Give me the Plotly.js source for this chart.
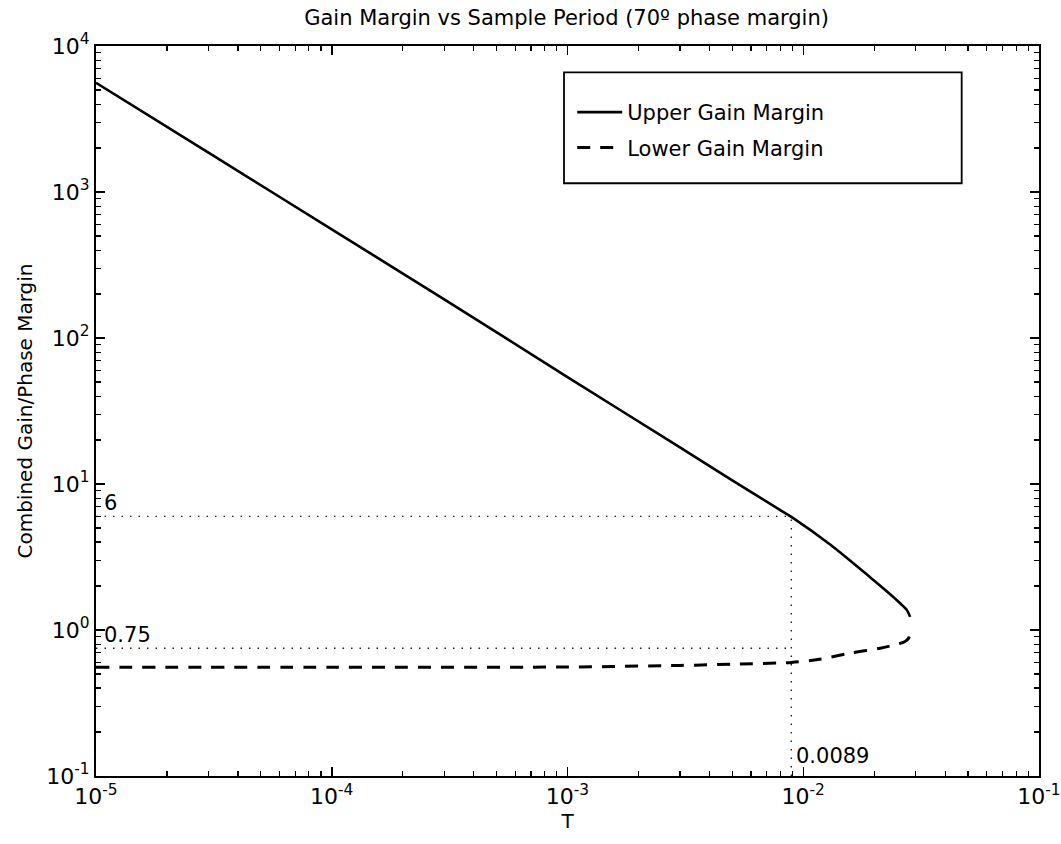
<!DOCTYPE html>
<html>
<head>
<meta charset="utf-8">
<script src="https://cdn.plot.ly/plotly-3.0.1.min.js"></script>
<style>html,body{margin:0;padding:0;background:#fff;}#chart{width:1061px;height:844px;}</style>
</head>
<body>
<div id="chart"></div>
<script>
// Sample period T (s) and gain margins
const upperT    = [1e-5, 3e-5, 1e-4, 3e-4, 1e-3, 3e-3, 5e-3, 0.0079, 0.0089, 0.013, 0.0192, 0.0235, 0.0257, 0.0275, 0.0284];
const upperGain = [5600, 1860, 555, 184, 54, 17.8, 10.6, 6.7, 5.95, 3.85, 2.3, 1.745, 1.53, 1.37, 1.23];
const lowerT    = [1e-5, 1e-4, 1e-3, 3e-3, 5e-3, 0.0089, 0.0117, 0.0158, 0.0212, 0.0250, 0.0269, 0.0280, 0.0284];
const lowerGain = [0.556, 0.556, 0.558, 0.572, 0.583, 0.60, 0.63, 0.695, 0.75, 0.80, 0.83, 0.88, 0.955];
// Marked design point
const markT = 0.0089;
const markUpper = 6;
const markLower = 0.75;
const markLabels = ["6", "0.75", "0.0089"];
// Axes
const xRange = [1e-5, 1e-1];
const yRange = [1e-1, 1e4];
const xTickExp = [-5, -4, -3, -2, -1];
const yTickExp = [-1, 0, 1, 2, 3, 4];
const minorMult = [2, 3, 4, 5, 6, 7, 8, 9];
const seriesNames = ["Upper Gain Margin", "Lower Gain Margin"];

const FONT = "DejaVu Sans, Arial, sans-serif";
const dotted = {color: "#222", width: 1.4, dash: "1.5px,7px"};

function minorVals(exps) {
  const out = [];
  exps.slice(0, -1).forEach(e => minorMult.forEach(m => out.push(m * Math.pow(10, e))));
  return out;
}

const traces = [
  {x: upperT, y: upperGain, mode: "lines", name: seriesNames[0], legendgroup: "a",
   line: {color: "#000", width: 2.6, shape: "spline", smoothing: 0.8}},
  {x: lowerT, y: lowerGain, mode: "lines", name: seriesNames[1], legendgroup: "b",
   line: {color: "#000", width: 3, dash: "13px,10px", shape: "spline", smoothing: 0.8}},
  {x: [xRange[0], markT], y: [markUpper, markUpper], mode: "lines", showlegend: false, line: dotted, hoverinfo: "skip"},
  {x: [xRange[0], markT], y: [markLower, markLower], mode: "lines", showlegend: false, line: dotted, hoverinfo: "skip"},
  {x: [markT, markT], y: [yRange[0], markUpper], mode: "lines", showlegend: false, line: dotted, hoverinfo: "skip"},
  // invisible trace carrying the mirrored (top/right) tick axes
  {x: xRange, y: yRange, xaxis: "x2", yaxis: "y2", mode: "lines", showlegend: false,
   line: {width: 0, color: "rgba(0,0,0,0)"}, hoverinfo: "skip"}
];

function tickBase(exps) {
  return {
    type: "log",
    showgrid: false, zeroline: false,
    ticks: "inside", ticklen: 9, tickwidth: 1.5, tickcolor: "#000",
    tickfont: {family: FONT, size: 22, color: "#000"},
    tickmode: "array",
    tickvals: exps.map(e => Math.pow(10, e)),
    ticktext: exps.map(e => "10<sup>" + e + "</sup>"),
    minor: {ticks: "inside", ticklen: 5, tickwidth: 1.2, tickcolor: "#000", showgrid: false,
            tickmode: "array", tickvals: minorVals(exps)}
  };
}

const layout = {
  width: 1061, height: 844,
  margin: {l: 96, r: 22, t: 46, b: 68},
  paper_bgcolor: "#fff", plot_bgcolor: "#fff",
  showlegend: true,
  font: {family: FONT, color: "#000"},
  title: {text: "Gain Margin vs Sample Period (70º phase margin)",
          font: {family: FONT, size: 21, color: "#000"},
          x: 0.534, xanchor: "center", y: 0.979, yanchor: "middle"},
  xaxis: Object.assign(tickBase(xTickExp), {
    range: [Math.log10(xRange[0]), Math.log10(xRange[1])],
    showline: true, linecolor: "#000", linewidth: 2, mirror: true,
    title: {text: "T", font: {family: FONT, size: 20, color: "#000"}, standoff: 0}
  }),
  yaxis: Object.assign(tickBase(yTickExp), {
    range: [Math.log10(yRange[0]), Math.log10(yRange[1])],
    showline: true, linecolor: "#000", linewidth: 2, mirror: true,
    title: {text: "Combined Gain/Phase Margin", font: {family: FONT, size: 20, color: "#000"}, standoff: 8}
  }),
  xaxis2: Object.assign(tickBase(xTickExp), {
    range: [Math.log10(xRange[0]), Math.log10(xRange[1])],
    overlaying: "x", side: "top", anchor: "y2", showline: false, showticklabels: false
  }),
  yaxis2: Object.assign(tickBase(yTickExp), {
    range: [Math.log10(yRange[0]), Math.log10(yRange[1])],
    overlaying: "y", side: "right", anchor: "x2", showline: false, showticklabels: false
  }),
  legend: {
    x: 0.505, y: 0.937, xanchor: "left", yanchor: "top",
    bgcolor: "rgba(0,0,0,0)", borderwidth: 0,
    font: {family: FONT, size: 21, color: "#000"},
    traceorder: "grouped", tracegroupgap: 5, itemwidth: 45
  },
  shapes: [
    {type: "rect", xref: "paper", yref: "paper", x0: 0.4963, x1: 0.918, y0: 0.812, y1: 0.964,
     line: {color: "#000", width: 1.8}, fillcolor: "rgba(0,0,0,0)", layer: "above"}
  ],
  annotations: [
    {x: Math.log10(xRange[0]), y: Math.log10(markUpper), xref: "x", yref: "y", text: markLabels[0],
     showarrow: false, xanchor: "left", yanchor: "bottom", xshift: 6, yshift: -1,
     font: {family: FONT, size: 21, color: "#000"}},
    {x: Math.log10(xRange[0]), y: Math.log10(markLower), xref: "x", yref: "y", text: markLabels[1],
     showarrow: false, xanchor: "left", yanchor: "bottom", xshift: 6, yshift: -1,
     font: {family: FONT, size: 21, color: "#000"}},
    {x: Math.log10(markT), y: Math.log10(yRange[0]), xref: "x", yref: "y", text: markLabels[2],
     showarrow: false, xanchor: "left", yanchor: "bottom", xshift: 3, yshift: 6,
     font: {family: FONT, size: 21, color: "#000"}}
  ]
};

Plotly.newPlot("chart", traces, layout, {staticPlot: true, displayModeBar: false});
</script>
</body>
</html>
